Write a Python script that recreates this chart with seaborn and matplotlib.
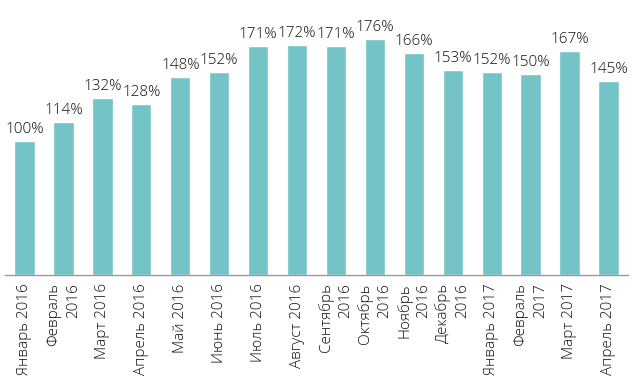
import matplotlib
matplotlib.use("Agg")
import matplotlib.pyplot as plt
import seaborn as sns
import pandas as pd

months = ["Январь 2016", "Февраль\n2016", "Март 2016", "Апрель 2016", "Май 2016",
          "Июнь 2016", "Июль 2016", "Август 2016", "Сентябрь\n2016", "Октябрь\n2016",
          "Ноябрь\n2016", "Декабрь\n2016", "Январь 2017", "Февраль\n2017",
          "Март 2017", "Апрель 2017"]
values = [100, 114, 132, 128, 148, 152, 171, 172, 171, 176, 166, 153, 152, 150, 167, 145]

df = pd.DataFrame({"month": months, "value": values})

sns.set_style("white")
plt.rcParams["font.family"] = ["Open Sans", "DejaVu Sans"]

fig = plt.figure(figsize=(6.44, 3.92), dpi=100)
ax = fig.add_axes([0.008, 0.2985, 0.967, 0.676])

sns.barplot(data=df, x="month", y="value", color="#74c4c7", width=0.52,
            saturation=1, ax=ax)

# подписи процентов над столбцами
for i, v in enumerate(values):
    ax.text(i, v + 3, f"{v}%", ha="center", va="bottom", fontsize=11,
            color="#111111", fontweight="light")

ax.set_xlim(-0.5, len(values) - 0.5)
ax.set_ylim(0, 198)
ax.set_xlabel("")
ax.set_ylabel("")
ax.set_yticks([])
for s in ["top", "right", "left"]:
    ax.spines[s].set_visible(False)
ax.spines["bottom"].set_color("#999999")
ax.spines["bottom"].set_linewidth(1)

ax.set_xticks(range(len(months)))
ax.set_xticklabels(months, rotation=90, fontsize=11, color="#111111",
                   ha="center", va="top", multialignment="right",
                   linespacing=1.4, fontweight="light")
ax.tick_params(axis="x", which="major", length=0, pad=6)
ax.set_xticks([i - 0.5 for i in range(len(months) + 1)], minor=True)
ax.tick_params(axis="x", which="minor", length=5, width=1, color="#999999", direction="out")

fig.savefig("out.png", dpi=100)
